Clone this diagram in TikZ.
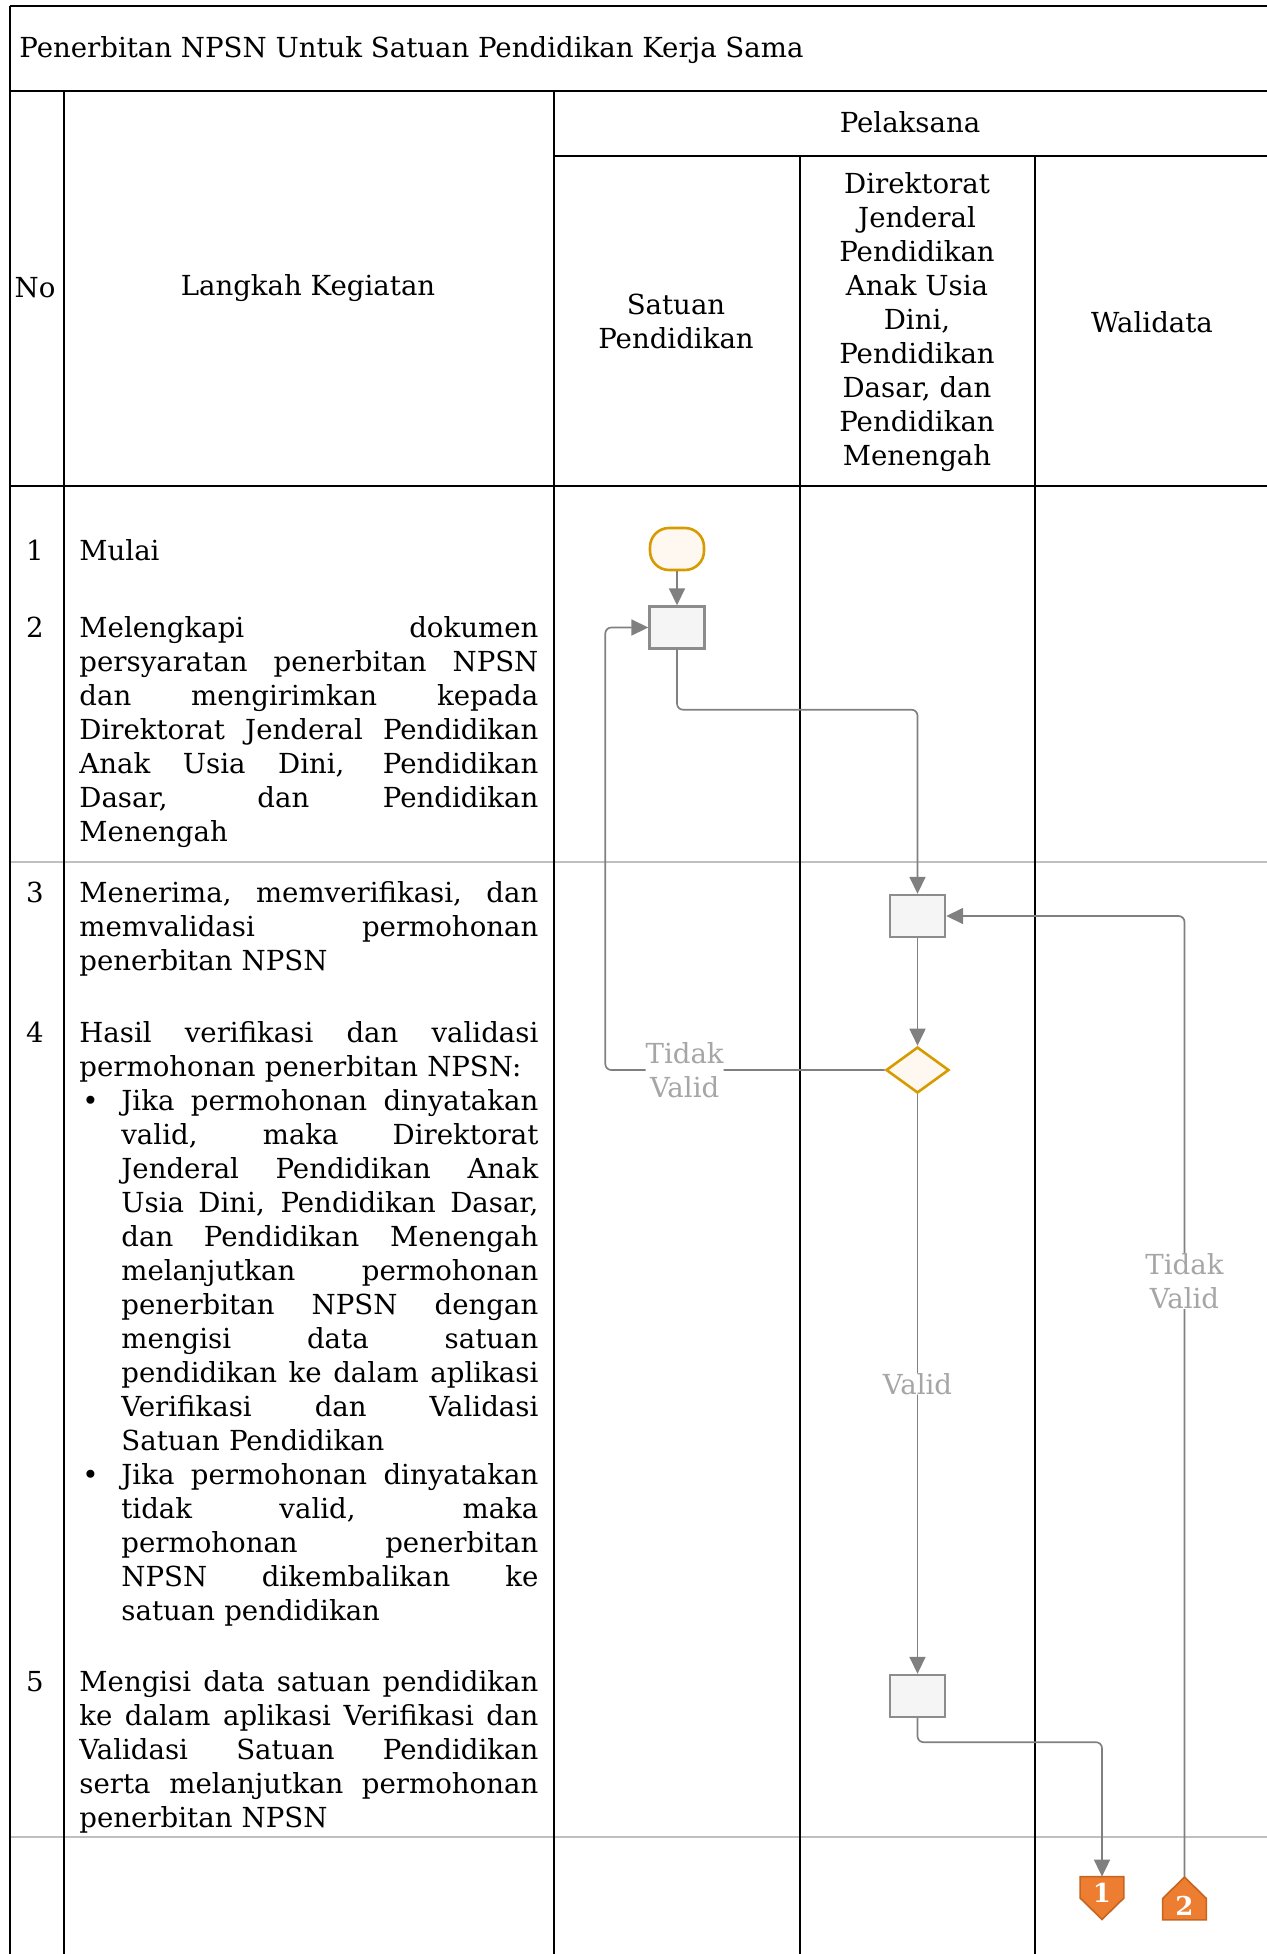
\documentclass[tikz,border=0pt]{standalone}
\usepackage{fontspec}
\setmainfont{DejaVu Serif}
\usetikzlibrary{arrows.meta}
\usetikzlibrary{calc}
\usetikzlibrary{positioning}
\usetikzlibrary{shapes.geometric}

\definecolor{flowline}{HTML}{808080}
\definecolor{rowline}{HTML}{BFBFBF}
\definecolor{boxline}{HTML}{8C8C8C}
\definecolor{boxfill}{HTML}{F5F5F5}
\definecolor{startline}{HTML}{D79B00}
\definecolor{startfill}{HTML}{FFF8F0}
\definecolor{pagefill}{HTML}{ED7D31}
\definecolor{pageline}{HTML}{C5651F}
\definecolor{labeltext}{HTML}{A6A6A6}

\newlength\stepwidth
\setlength\stepwidth{229.5pt}
\newlength\bulletwidth
\setlength\bulletwidth{208.5pt}
\newcommand\spreadline[2]{\leavevmode\hbox to #1{\spaceskip=\fontdimen2\font plus 1fil\relax #2}}
\newcommand\justline[1]{\spreadline{\stepwidth}{#1}}
\newcommand\bulletline[1]{\hspace*{21pt}\spreadline{\bulletwidth}{#1}}
\newcommand\bulletfirst[1]{\makebox[21pt][l]{\hspace{1.5pt}\textbullet}\spreadline{\bulletwidth}{#1}}
\newcommand\bulletlast[1]{\hspace*{21pt}#1}

\tikzset{
  txt/.style={font=\fontsize{13.8}{17}\selectfont,inner sep=0pt},
  stepno/.style={txt,anchor=base},
  steptext/.style={txt,anchor=base west,text width=\stepwidth,align=left},
  process/.style={draw=boxline,fill=boxfill,line width=1.2pt,minimum width=27.5pt,minimum height=21pt,inner sep=0pt},
  terminal/.style={draw=startline,fill=startfill,line width=1.3pt,rounded corners=9.5pt,minimum width=27pt,minimum height=21pt,inner sep=0pt},
  decision/.style={diamond,draw=startline,fill=startfill,line width=1.3pt,minimum width=31.5pt,minimum height=23pt,inner sep=0pt},
  offpage/.style={minimum width=21.5pt,minimum height=21pt,inner sep=0pt},
  pagenum/.style={text=white,inner sep=0pt,font=\fontsize{13}{13}\selectfont\bfseries},
  flow/.style={draw=flowline,line width=0.85pt,rounded corners=3pt},
  flowarrow/.style={flow,-{Triangle[length=8.5pt,width=8pt]}},
  flowlabel/.style={txt,text=labeltext,fill=white,align=center},
  lane/.style={line width=0.65pt},
  rowsep/.style={draw=rowline,line width=0.8pt}
}

\begin{document}
\begin{tikzpicture}[x=0.5pt,y=-0.5pt]
  \useasboundingbox (0,0) rectangle (1267,1954);

  \draw [rowsep] (10,862) -- (1267,862);
  \draw [rowsep] (10,1837) -- (1267,1837);
  \draw [lane]
    (10,6) -- (1267,6)
    (10,91) -- (1267,91)
    (554,156) -- (1267,156)
    (10,486) -- (1267,486)
    (10,6) -- (10,1954)
    (64,91) -- (64,1954)
    (554,91) -- (554,1954)
    (800,156) -- (800,1954)
    (1035,156) -- (1035,1954);

  \node [txt,anchor=west] (title) at (19,50) {Penerbitan NPSN Untuk Satuan Pendidikan Kerja Sama};
  \node [txt] (hno) at (35,288) {No};
  \node [txt] (hstep) at (308,288) {Langkah Kegiatan};
  \node [txt] (hpel) at (910,122) {Pelaksana};
  \node [txt,align=center] (hsp) at (676,321) {Satuan\\Pendidikan};
  \node [txt,align=center] (hdj) at (917,322) {Direktorat\\Jenderal\\Pendidikan\\Anak Usia\\Dini,\\Pendidikan\\Dasar, dan\\Pendidikan\\Menengah};
  \node [txt] (hwd) at (1152,322) {Walidata};

  \node [stepno] (no1) at (35,560) {1};
  \node [steptext] (s1) at (79,560) {Mulai};

  \node [stepno] (no2) at (35,637) {2};
  \node [steptext] (s2) at (79,637) {%
    \justline{Melengkapi dokumen}\\
    \justline{persyaratan penerbitan NPSN}\\
    \justline{dan mengirimkan kepada}\\
    \justline{Direktorat Jenderal Pendidikan}\\
    \justline{Anak Usia Dini, Pendidikan}\\
    \justline{Dasar, dan Pendidikan}\\
    Menengah};

  \node [stepno] (no3) at (35,902) {3};
  \node [steptext] (s3) at (79,902) {%
    \justline{Menerima, memverifikasi, dan}\\
    \justline{memvalidasi permohonan}\\
    penerbitan NPSN};

  \node [stepno] (no4) at (35,1042) {4};
  \node [steptext] (s4) at (79,1042) {%
    \justline{Hasil verifikasi dan validasi}\\
    permohonan penerbitan NPSN:\\
    \bulletfirst{Jika permohonan dinyatakan}\\
    \bulletline{valid, maka Direktorat}\\
    \bulletline{Jenderal Pendidikan Anak}\\
    \bulletline{Usia Dini, Pendidikan Dasar,}\\
    \bulletline{dan Pendidikan Menengah}\\
    \bulletline{melanjutkan permohonan}\\
    \bulletline{penerbitan NPSN dengan}\\
    \bulletline{mengisi data satuan}\\
    \bulletline{pendidikan ke dalam aplikasi}\\
    \bulletline{Verifikasi dan Validasi}\\
    \bulletlast{Satuan Pendidikan}\\
    \bulletfirst{Jika permohonan dinyatakan}\\
    \bulletline{tidak valid, maka}\\
    \bulletline{permohonan penerbitan}\\
    \bulletline{NPSN dikembalikan ke}\\
    \bulletlast{satuan pendidikan}};

  \node [stepno] (no5) at (35,1691) {5};
  \node [steptext] (s5) at (79,1691) {%
    \justline{Mengisi data satuan pendidikan}\\
    \justline{ke dalam aplikasi Verifikasi dan}\\
    \justline{Validasi Satuan Pendidikan}\\
    \justline{serta melanjutkan permohonan}\\
    penerbitan NPSN};

  \node [terminal] (start) at (677,549) {};
  \node [process] (ps2) at (677,627.5) {};
  \node [process] (ps3) at (917.5,916) {};
  \node [decision] (dec4) at (917.5,1070) {};
  \node [process] (ps5) at (917.5,1696) {};
  \node [offpage] (pg1) at (1102,1898) {};
  \node [offpage] (pg2) at (1184.5,1898.5) {};

  \path [flowarrow]
    (start) edge [flowarrow] (ps2)
    (ps3)   edge [flowarrow] (dec4);

  \draw [flowarrow] (ps2.south) -- ++(0,60) -| (ps3.north);
  \draw [flowarrow] (dec4.west) -| node [flowlabel,pos=0.358] {Tidak\\Valid} ($(ps2.west)+(-43,0)$) -- (ps2.west);
  \draw [flowarrow] (dec4.south) -- node [flowlabel] {Valid} (ps5.north);
  \draw [flowarrow] (ps5.south) -- ++(0,24) -| (pg1.north);
  \draw [flowarrow] (pg2.north) |- node [flowlabel,pos=0.31] {Tidak\\Valid} (ps3.east);

  \filldraw [fill=pagefill,draw=pageline,line width=0.8pt]
    (pg1.north west) -- (pg1.north east) -- (pg1.east) -- (pg1.south) -- (pg1.west) -- cycle;
  \node [pagenum] at ([yshift=2.5pt]pg1.center) {1};
  \filldraw [fill=pagefill,draw=pageline,line width=0.8pt]
    (pg2.north) -- (pg2.east) -- (pg2.south east) -- (pg2.south west) -- (pg2.west) -- cycle;
  \node [pagenum] at ([yshift=-3.5pt]pg2.center) {2};

\end{tikzpicture}
\end{document}
